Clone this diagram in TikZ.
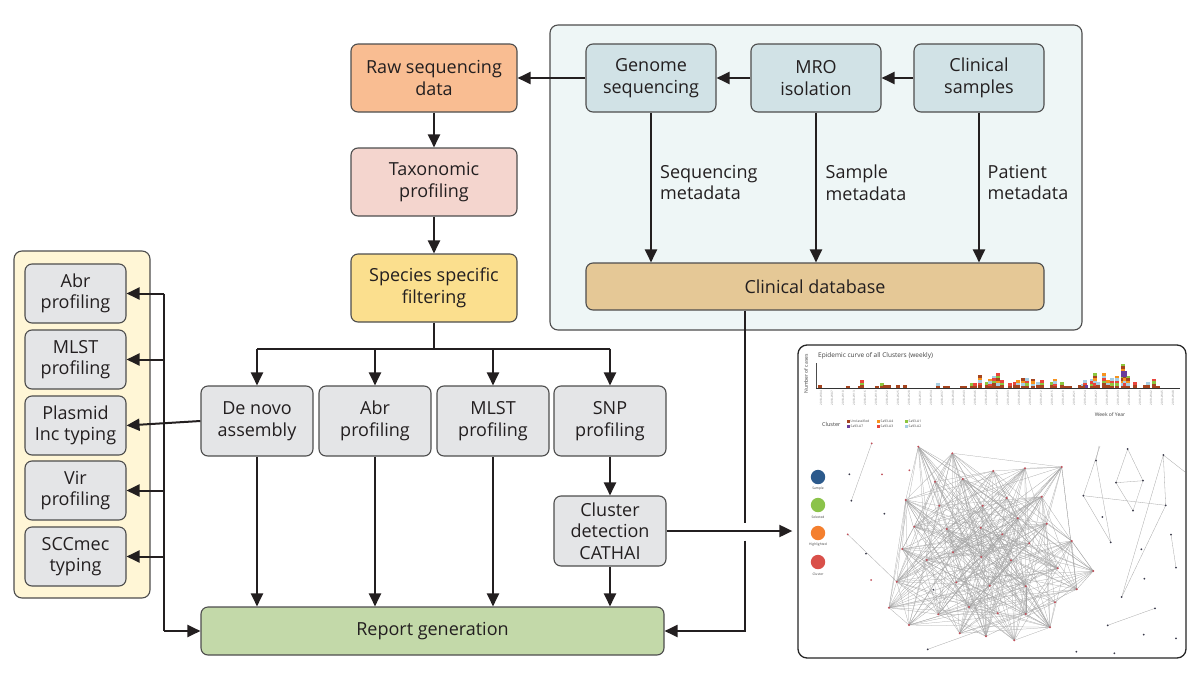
\documentclass[tikz,border=0pt]{standalone}
\usepackage{fontspec}
\setmainfont{Open Sans}
\usetikzlibrary{arrows.meta}
\definecolor{txt}{HTML}{231F20}
\definecolor{boxline}{HTML}{4D4D4D}
\definecolor{arrc}{HTML}{231F20}
\definecolor{rawfill}{HTML}{F9BD92}
\definecolor{taxfill}{HTML}{F4D5CE}
\definecolor{specfill}{HTML}{FBDF8E}
\definecolor{tealpanel}{HTML}{EEF6F6}
\definecolor{tealbox}{HTML}{D1E2E6}
\definecolor{dbfill}{HTML}{E5C896}
\definecolor{grayfill}{HTML}{E4E5E7}
\definecolor{yellowpanel}{HTML}{FFF6D6}
\definecolor{greenfill}{HTML}{C3D9A9}
\definecolor{bc0}{HTML}{A5441F}
\definecolor{bc1}{HTML}{E8453C}
\definecolor{bc2}{HTML}{F7931E}
\definecolor{bc3}{HTML}{8DC63F}
\definecolor{bc4}{HTML}{A6CEE3}
\definecolor{bc5}{HTML}{6A3D9A}
\definecolor{lgblue}{HTML}{2C5A8C}
\definecolor{lggreen}{HTML}{8BC34A}
\definecolor{lgorange}{HTML}{F47F2E}
\definecolor{lgred}{HTML}{D9504A}
\definecolor{clnode}{HTML}{C0505A}
\definecolor{ptnode}{HTML}{3A3A4A}
\begin{document}
\begin{tikzpicture}[x=1pt,y=-1pt,
  box/.style={draw=boxline, line width=1.1pt, rounded corners=7pt, align=center,
    inner sep=0pt, text=txt, font=\fontsize{18}{21.5}\selectfont},
  panel/.style={draw=boxline, line width=1.1pt, rounded corners=8pt},
  arr/.style={draw=arrc, line width=2pt, -{Triangle[length=13pt,width=12pt]}},
  ln/.style={draw=arrc, line width=2pt},
  lbl/.style={anchor=west, inner sep=0pt, align=left, text=txt, font=\fontsize{18}{21.5}\selectfont},
  tiny/.style={inner sep=0pt, text=black!75}
]
\useasboundingbox (0,0) rectangle (1200,683);

% ---------- panels ----------
\draw[panel, fill=tealpanel] (550,25) rectangle (1082,330);
\draw[panel, fill=yellowpanel] (14,251) rectangle (150,598);

% ---------- main column ----------
\node[box, fill=rawfill, minimum width=166pt, minimum height=68pt] (raw) at (434,78) {Raw sequencing\\data};
\node[box, fill=taxfill, minimum width=166pt, minimum height=68pt] (tax) at (434,182) {Taxonomic\\profiling};
\node[box, fill=specfill, minimum width=166pt, minimum height=68pt] (spec) at (434,288) {Species specific\\filtering};

% ---------- clinical panel ----------
\node[box, fill=tealbox, minimum width=130pt, minimum height=68pt] (genome) at (651,78) {Genome\\sequencing};
\node[box, fill=tealbox, minimum width=130pt, minimum height=68pt] (mro) at (816,78) {MRO\\isolation};
\node[box, fill=tealbox, minimum width=130pt, minimum height=68pt] (clin) at (979,78) {Clinical\\samples};
\node[box, fill=dbfill, minimum width=458pt, minimum height=47pt] (db) at (815,286.5) {Clinical database};

\node[lbl] (seqmeta) at (660,182.5) {Sequencing\\metadata};
\node[lbl] (sampmeta) at (825.5,182.5) {Sample\\metadata};
\node[lbl] (patmeta) at (987.5,182.5) {Patient\\metadata};

\draw[arr] (clin.west) -- (mro.east);
\draw[arr] (mro.west) -- (genome.east);
\draw[arr] (genome.west) -- (raw.east);
\draw[arr] (genome.south) -- (genome.south |- db.north);
\draw[arr] (mro.south) -- (mro.south |- db.north);
\draw[arr] (clin.south) -- (clin.south |- db.north);

\draw[arr] (raw.south) -- (tax.north);
\draw[arr] (tax.south) -- (spec.north);

% ---------- analysis row ----------
\node[box, fill=grayfill, minimum width=112pt, minimum height=70pt] (denovo) at (257,421) {De novo\\assembly};
\node[box, fill=grayfill, minimum width=112pt, minimum height=70pt] (abr) at (375,421) {Abr\\profiling};
\node[box, fill=grayfill, minimum width=112pt, minimum height=70pt] (mlst) at (493,421) {MLST\\profiling};
\node[box, fill=grayfill, minimum width=112pt, minimum height=70pt] (snp) at (610,421) {SNP\\profiling};
\node[box, fill=grayfill, minimum width=112pt, minimum height=70pt] (cluster) at (610,531) {Cluster\\detection\\CATHAI};
\node[box, fill=greenfill, minimum width=463pt, minimum height=48pt] (report) at (432.5,631) {Report generation};

\draw[ln] (spec.south) -- ++(0,26) coordinate (bus);
\draw[ln] (denovo.north |- bus) -- (snp.north |- bus);
\draw[arr] (denovo.north |- bus) -- (denovo.north);
\draw[arr] (abr.north |- bus) -- (abr.north);
\draw[arr] (mlst.north |- bus) -- (mlst.north);
\draw[arr] (snp.north |- bus) -- (snp.north);
\draw[arr] (snp.south) -- (cluster.north);

\draw[arr] (denovo.south) -- (denovo.south |- report.north);
\draw[arr] (abr.south) -- (abr.south |- report.north);
\draw[arr] (mlst.south) -- (mlst.south |- report.north);
\draw[arr] (cluster.south) -- (cluster.south |- report.north);

% ---------- left typing panel ----------
\node[box, fill=grayfill, minimum width=101pt, minimum height=59pt] (abrL) at (75.5,293.5) {Abr\\profiling};
\node[box, fill=grayfill, minimum width=101pt, minimum height=59pt] (mlstL) at (75.5,359.5) {MLST\\profiling};
\node[box, fill=grayfill, minimum width=101pt, minimum height=59pt] (plasL) at (75.5,425.5) {Plasmid\\Inc typing};
\node[box, fill=grayfill, minimum width=101pt, minimum height=59pt] (virL) at (75.5,490.5) {Vir\\profiling};
\node[box, fill=grayfill, minimum width=101pt, minimum height=59pt] (sccL) at (75.5,556.5) {SCCmec\\typing};

\coordinate (vtop) at (164,293.5);
\draw[ln] (vtop) -- (vtop |- report.west);
\draw[arr] (vtop |- report.west) -- (report.west);
\draw[arr] (vtop) -- (abrL.east);
\draw[arr] (vtop |- mlstL.east) -- (mlstL.east);
\draw[arr] (denovo.west) -- (plasL.east);
\draw[arr] (vtop |- virL.east) -- (virL.east);
\draw[arr] (vtop |- sccL.east) -- (sccL.east);

% ---------- screenshot panel ----------
\node[draw=black!85, line width=1.3pt, rounded corners=9pt, fill=white,
      minimum width=388pt, minimum height=313pt, inner sep=0pt] (shot) at (992,501.5) {};

% database -> report with line gap
\coordinate (dbout) at ([xshift=-70pt]db.south);
\draw[ln] (dbout) -- ([yshift=-212pt]dbout);
\draw[arr] ([yshift=-230pt]dbout) -- (dbout |- report.east) -- (report.east);
\draw[arr] (cluster.east) -- ([xshift=-5pt]shot.west |- cluster.east);

% chart
\node[tiny, anchor=west, font=\fontsize{6.5}{7}\selectfont] (ctitle) at (818,356) {Epidemic curve of all Clusters (weekly)};
\node[tiny, rotate=90, font=\fontsize{5}{5}\selectfont] (ylab) at (806,374) {Number of cases};
\draw[black!70, line width=0.5pt] (816,363) -- (816,388);
\foreach \bx/\bh in {820/3,848/2,860/2,862/8,877/2,882/5,885/3,889/3,898/3,905/3,938/5,945/2,948/2,962/2,965/2,972/5,975/5,980/13,987/6,990/9,994/12,998/15,1002/8,1010/5,1015/6,1018/8,1023/10,1027/10,1033/9,1038/6,1042/8,1052/6,1055/9,1062/6,1066/2,1070/2,1080/3,1083/4,1085/8,1092/9,1095/15,1098/6,1104/15,1108/8,1112/10,1117/12,1123/24,1125/12,1128/12,1135/6,1145/3,1148/6,1154/9,1158/2}{
  \pgfmathtruncatemacro\ns{max(1,round(\bh/2.5))}
  \foreach \k in {1,...,\ns}{
    \pgfmathtruncatemacro\ci{\k==1 ? 0 : mod(\k*3+\bx,5)}
    \fill[bc\ci] (\bx-1.6,{388-(\k-1)*\bh/\ns}) rectangle (\bx+1.6,{388-\k*\bh/\ns});
  }
}
\fill[bc5] (1121,377) rectangle (1127,371);
\fill[bc5] (1085,388) rectangle (1088,385);
\draw[black!80, line width=0.5pt] (816,388) -- (1180,388);
\foreach \i in {0,...,32}{
  \pgfmathtruncatemacro\wk{mod(4+3*\i-1,52)+1}
  \pgfmathtruncatemacro\yr{2018+int((4+3*\i-1)/52)}
  \node[tiny, rotate=90, anchor=east, text=black!45, font=\fontsize{3}{3}\selectfont] at (821+11*\i,391) {\yr-W\ifnum\wk<10 0\fi\wk};
}
\node[tiny, font=\fontsize{5}{5}\selectfont] (xlab) at (1110,415) {Week of Year};
\node[tiny, anchor=west, font=\fontsize{5.5}{6}\selectfont] (clegend) at (822,424.5) {Cluster};
\foreach \lx/\ly/\lc/\lt in {848/421.5/bc0/Unclassified, 848/426.5/bc5/Sa93-A7, 878/421.5/bc2/Sa93-A4, 878/426.5/bc1/Sa93-A3, 906/421.5/bc3/Sa93-A1, 906/426.5/bc4/Sa93-A2}{
  \fill[\lc] (\lx-1.5,\ly-1.6) rectangle (\lx+1.5,\ly+1.6);
  \node[tiny, anchor=west, font=\fontsize{3.3}{3.5}\selectfont] at (\lx+2.5,\ly) {\lt};
}

% legend circles
\foreach \cy/\cc/\ct in {477/lgblue/Sample, 505/lggreen/Selected, 533/lgorange/Highlighted, 562/lgred/Cluster}{
  \fill[\cc] (818,\cy) circle (7.2);
  \node[tiny, font=\fontsize{3.3}{3.5}\selectfont] at (818,\cy+12) {\ct};
}

% network: cluster nodes
\foreach \n/\px/\py in {1/918.3/446.7,2/952.3/453.3,3/993.3/471,4/1025/468.3,5/1061.7/467,6/935/481.7,7/962.7/479,8/1006.7/498,9/1041.7/496.7,10/905.7/500,11/939.3/505.7,12/982.7/505.7,13/1017.7/518.3,14/1046.7/523.7,15/914.3/526.7,16/946.7/529,17/980.7/527.7,18/1002.3/534.3,19/1029.3/543.3,20/1071.7/541,21/902.3/549,22/926.7/560,23/953/552.3,24/981.3/557,25/1011/560.3,26/1057.7/568.3,27/1093.3/571,28/896.7/581.7,29/956.3/582.3,30/989.7/585.7,31/1025.7/586.3,32/1076.7/589.3,33/889/607.7,34/969/607,35/997.7/613.3,36/1055/602.3,37/938.3/614.3,38/1025.7/614,39/909/625,40/959.7/633.3,41/986/636.3,42/1014.3/640.3,43/1050/627.3}{
  \coordinate (c\n) at (\px,\py);
}
\pgfmathsetseed{11}
\foreach \i in {1,...,42}{
  \pgfmathtruncatemacro\ia{\i+1}
  \foreach \j in {\ia,...,43}{
    \pgfmathtruncatemacro\dr{rnd<0.32 ? 1 : 0}
    \ifnum\dr=1 \draw[black!35, line width=0.25pt] (c\i) -- (c\j); \fi
  }
}
% sparse edges
\foreach \ax/\ay/\bx/\by in {1096/460.7/1110.7/542.3, 1083.3/495.7/1110.7/542.3, 1083.3/495.7/1165.7/505.3, 1127.7/449/1116/482.7, 1127.7/449/1143/480.7, 1116/482.7/1133/510.7, 1143/480.7/1133/510.7, 1116/482.7/1143/480.7, 1163.3/455/1165.7/505.3, 1165.7/505.3/1121.7/597, 1163.3/455/1121.7/597, 1163.3/455/1185/472, 1171/534.7/1176/567.7, 1107.7/625.3/1155/608.3, 1096/460.7/1099/446, 1083.3/495.7/1100/446, 871.7/443.3/851.3/500.7, 847.7/534.3/896.7/581.7, 1061.7/467/1076.7/589.3, 1071.7/541/1076.7/589.3, 1093.3/571/1071.7/541, 927.7/649.3/1025.7/614, 1093.3/571/1076.7/589.3}{
  \draw[black!35, line width=0.3pt] (\ax,\ay) -- (\bx,\by);
}
\foreach \n in {1,...,43}{ \fill[clnode] (c\n) circle (1.1); }
\foreach \px/\py in {1096/460.7,1127.7/449,1116/482.7,1143/480.7,1083.3/495.7,1102.3/517,1133/510.7,1165.7/505.3,1163.3/455,1110.7/542.3,1141.3/549.3,1171/534.7,1176/567.7,1144.3/578.7,1121.7/597,1155/608.3,1107.7/625.3,1143.7/634.7,1176/638.3,1076.3/651.7,1114.3/653.3,933.3/589.7,884.3/513.7,866/553.7,849.3/474.3,851.3/500.7,927.7/649.3}{
  \fill[ptnode] (\px,\py) circle (1.0);
}
\foreach \px/\py in {882/474.3,909.3/470.3,847.7/534.3,871.7/443.3,871/580}{
  \fill[clnode] (\px,\py) circle (1.0);
}
\end{tikzpicture}
\end{document}
